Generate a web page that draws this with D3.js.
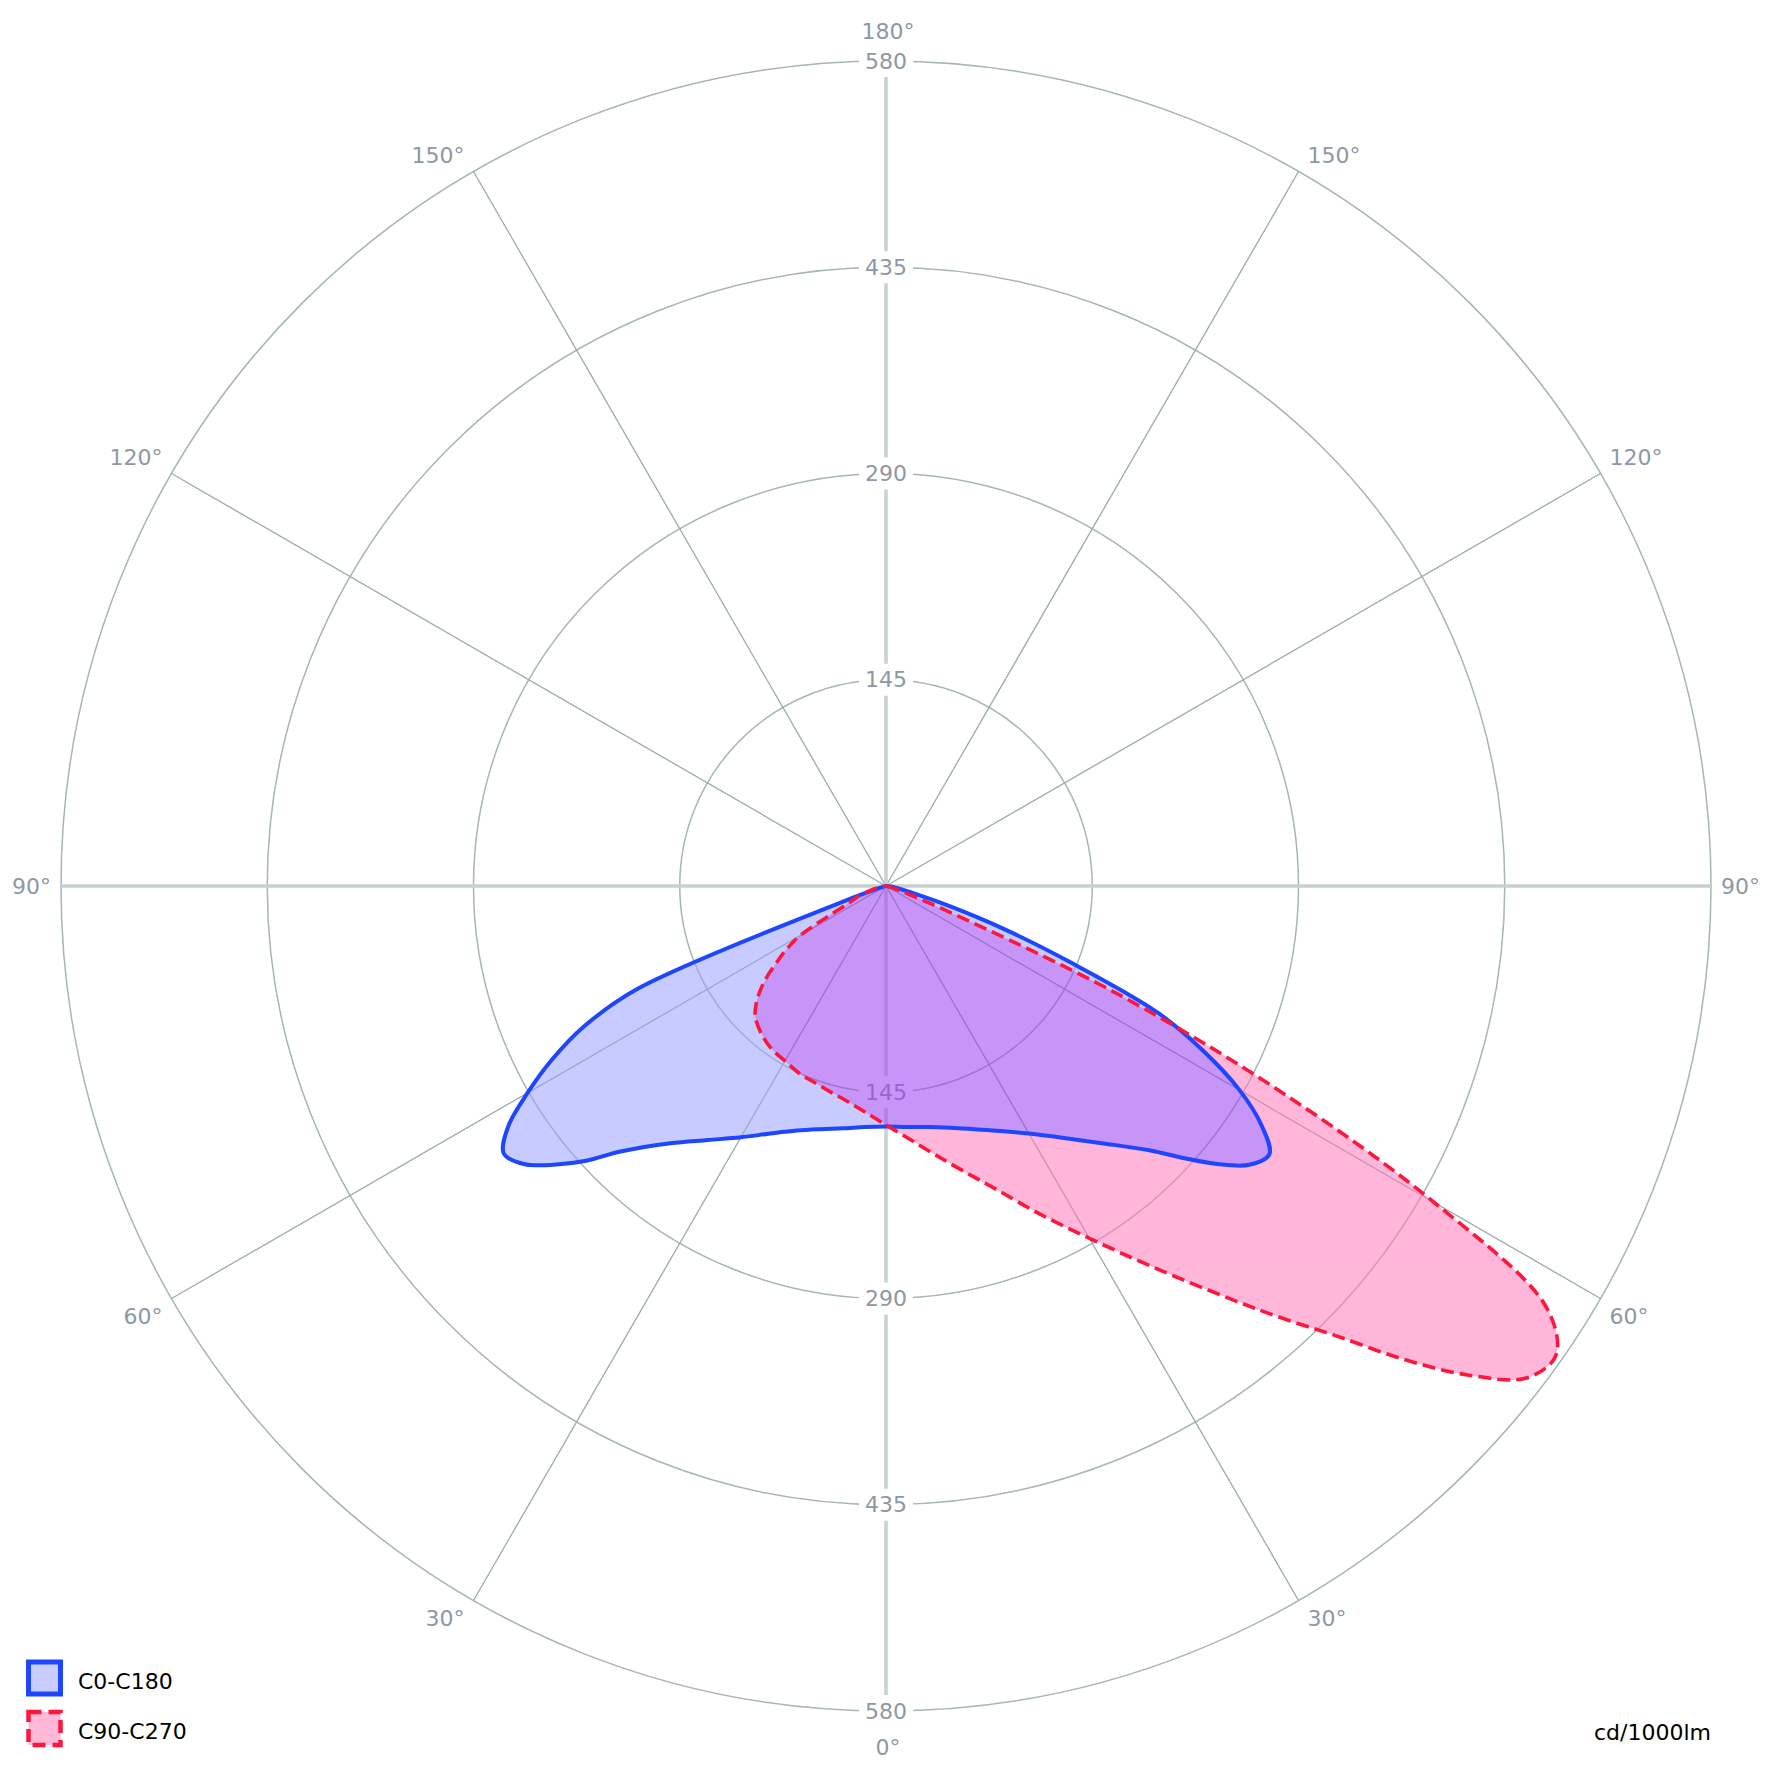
<!DOCTYPE html>
<html><head><meta charset="utf-8">
<script src="https://cdn.jsdelivr.net/npm/d3@7"></script>
<style>html,body{margin:0;padding:0;background:#fff}svg{display:block}</style>
</head><body>
<svg id="chart" width="1773" height="1773"></svg>
<script>
// ---------------- data ----------------
const ringTicks = [145, 290, 435, 580];
const maxValue = 580;
const spokeAngles = [30, 60, 120, 150];
const angleLabelValues = [0, 30, 60, 90, 120, 150, 180];
const angleLabelTexts = ["0°", "30°", "60°", "90°", "120°", "150°", "180°"];
const seriesNames = ["C0-C180", "C90-C270"];
const unitLabel = "cd/1000lm";

// C0 (right half) and C180 (left half), gamma in degrees from nadir
const gammaC0 = [0,5,10,15,20,25,30,35,40,45,47.5,50,52.5,55,57.5,60,62.5,65,67.5,70,72.5,75,80,85,90];
const valuesC0 = [169,170,172,176,182,190,201,216,236,263,283,304,322,329,313,287,252,211,141,88,46,22,7,2,0];
const gammaC180 = [0,5,10,15,20,25,30,35,40,45,47.5,50,52.5,55,57.5,60,62.5,65,67.5,70,72.5,75,80,85,90];
const valuesC180 = [169,170,173,177,183,192,204,218,236,264,286,305,321,328,315,291,265,235,190,35,9,3,1,0,0];

// C90 (right half) and C270 (left half)
const gammaC90 = [0,5,10,15,20,25,30,35,40,42.5,45,47.5,50,52.5,55,57.5,60,62.5,65,67.5,70,72.5,75,80,85,90];
const valuesC90 = [168,178,191,207,227,254,286,327,380,412,447,492,535,568,575,550,445,312,180,53,18,7,3,1,0,0];
const gammaC270 = [0,5,10,15,20,25,30,35,40,45,47.5,50,52.5,55,57.5,60,62.5,65,67.5,70,72.5,75,80,85,90];
const valuesC270 = [168,160,154,150,147,145,142,140,136,130,124,116,106,94,83,70,45,30,24,20,15,11,5,2,0];

// ---------------- layout ----------------
const cx = 886, cy = 886, R = 825;
const svg = d3.select("#chart");
const rScale = d3.scaleLinear().domain([0, maxValue]).range([0, R]);
const FONT = "'DejaVu Sans', Verdana, sans-serif";
const deg = Math.PI / 180;

const grid = svg.append("g");
// rings
grid.selectAll("circle.ring").data(ringTicks).join("circle")
  .attr("cx", cx).attr("cy", cy).attr("r", d => rScale(d))
  .attr("fill", "none").attr("stroke", "#a6b5b5").attr("stroke-width", 1.5);
// spokes (thin)
spokeAngles.forEach(g => {
  [1, -1].forEach(side => {
    grid.append("line")
      .attr("x1", cx).attr("y1", cy)
      .attr("x2", cx + side * R * Math.sin(g * deg))
      .attr("y2", cy + R * Math.cos(g * deg))
      .attr("stroke", "#9aabab").attr("stroke-width", 1.3);
  });
});
// main axes
grid.append("line").attr("x1", cx).attr("x2", cx).attr("y1", cy - R).attr("y2", cy + R)
  .attr("stroke", "#c6d1d1").attr("stroke-width", 3.5);
grid.append("line").attr("y1", cy).attr("y2", cy).attr("x1", cx - R).attr("x2", cx + R)
  .attr("stroke", "#c6d1d1").attr("stroke-width", 3.5);

// ring labels (top and bottom) with white knock-out
ringTicks.forEach(v => {
  [-1, 1].forEach(s => {
    const y = cy + s * rScale(v);
    grid.append("rect").attr("x", cx - 27).attr("y", y - 16).attr("width", 54).attr("height", 32)
      .attr("fill", "#fff");
    grid.append("text").attr("x", cx).attr("y", y)
      .attr("text-anchor", "middle").attr("dominant-baseline", "central")
      .attr("font-family", FONT).attr("font-size", 22).attr("fill", "#8d98a4")
      .text(v);
  });
});

// angle labels
angleLabelValues.forEach((g, i) => {
  const txt = angleLabelTexts[i];
  if (g === 0 || g === 180) {
    grid.append("text").attr("x", cx + 2)
      .attr("y", g === 0 ? cy + R + 36 : cy - R - 30)
      .attr("text-anchor", "middle").attr("dominant-baseline", "central")
      .attr("font-family", FONT).attr("font-size", 22).attr("fill", "#8d98a4")
      .text(txt);
  } else {
    [1, -1].forEach(side => {
      const px = cx + side * R * Math.sin(g * deg);
      const py = cy + R * Math.cos(g * deg);
      const c = Math.cos(g * deg);
      const dy = c > 0.01 ? 18 : (c < -0.01 ? -16 : 0);
      grid.append("text").attr("x", px + side * (g === 90 ? 10 : 9)).attr("y", py + dy)
        .attr("text-anchor", side > 0 ? "start" : "end").attr("dominant-baseline", "central")
        .attr("font-family", FONT).attr("font-size", 22).attr("fill", "#8d98a4")
        .text(txt);
    });
  }
});

// ---------------- curves ----------------
function buildPoints(gR, vR, gL, vL) {
  const pts = [];
  for (let i = gR.length - 1; i >= 0; i--) pts.push([Math.PI - gR[i] * deg, rScale(vR[i])]);
  for (let i = 0; i < gL.length; i++) pts.push([Math.PI + gL[i] * deg, rScale(vL[i])]);
  // remove coincident consecutive points
  const out = [];
  pts.forEach(p => {
    const x = p[1] * Math.sin(p[0]), y = -p[1] * Math.cos(p[0]);
    const last = out[out.length - 1];
    if (last) {
      const lx = last[1] * Math.sin(last[0]), ly = -last[1] * Math.cos(last[0]);
      if (Math.hypot(x - lx, y - ly) < 0.5) return;
    }
    out.push(p);
  });
  const f = out[0], l = out[out.length - 1];
  if (Math.hypot(f[1]*Math.sin(f[0]) - l[1]*Math.sin(l[0]), -f[1]*Math.cos(f[0]) + l[1]*Math.cos(l[0])) < 0.5) out.pop();
  return out;
}
const line = d3.lineRadial().angle(d => d[0]).radius(d => d[1])
  .curve(d3.curveCatmullRomClosed.alpha(0.5));

const blueD = line(buildPoints(gammaC0, valuesC0, gammaC180, valuesC180));
const redD = line(buildPoints(gammaC90, valuesC90, gammaC270, valuesC270));

const plot = svg.append("g").attr("transform", `translate(${cx},${cy})`);
plot.append("defs").append("clipPath").attr("id", "blueClip")
  .append("path").attr("d", blueD);
const fills = plot.append("g").attr("opacity", 0.55);
fills.append("path").attr("d", blueD).attr("fill", "rgb(155,162,255)");
fills.append("path").attr("d", redD).attr("fill", "rgb(255,123,186)");
fills.append("path").attr("d", redD).attr("clip-path", "url(#blueClip)").attr("fill", "rgb(155,64,242)");

plot.append("path").attr("d", blueD).attr("fill", "none")
  .attr("stroke", "#1e46ff").attr("stroke-width", 4).attr("stroke-linejoin", "round");
plot.append("path").attr("d", redD).attr("fill", "none")
  .attr("stroke", "#ff163c").attr("stroke-width", 3.6).attr("stroke-dasharray", "13,6");

// ---------------- legend ----------------
const legend = svg.append("g");
legend.append("rect").attr("x", 28.5).attr("y", 1662).attr("width", 32).attr("height", 32)
  .attr("fill", "#c8ccff").attr("stroke", "#1e46ff").attr("stroke-width", 5);
legend.append("rect").attr("x", 28.5).attr("y", 1712).attr("width", 32).attr("height", 33)
  .attr("fill", "#ffb8d8").attr("stroke", "#ff163c").attr("stroke-width", 4.5).attr("stroke-dasharray", "13,7");
seriesNames.forEach((n, i) => {
  legend.append("text").attr("x", 78).attr("y", 1681 + i * 50)
    .attr("dominant-baseline", "central").attr("font-family", FONT).attr("font-size", 22)
    .attr("fill", "#000").text(n);
});
svg.append("text").attr("x", 1711).attr("y", 1740).attr("text-anchor", "end")
  .attr("font-family", FONT).attr("font-size", 22).attr("fill", "#000").text(unitLabel);
</script>
</body></html>
